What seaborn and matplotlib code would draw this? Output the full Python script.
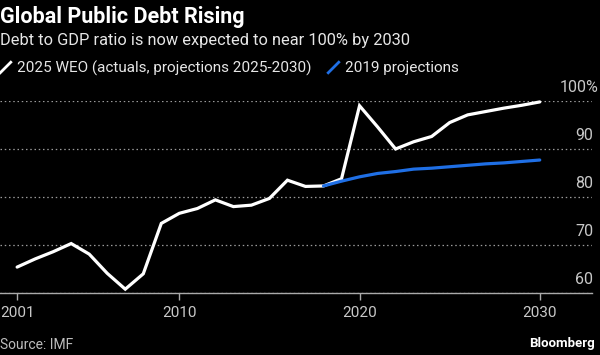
import matplotlib
matplotlib.use("Agg")
import matplotlib.pyplot as plt
from matplotlib.lines import Line2D
from matplotlib import transforms
import seaborn as sns
import pandas as pd

# Data
weo_years = list(range(2001, 2031))
weo_debt = [65.4, 67.1, 68.6, 70.3, 68.1, 64.1, 60.8, 64.0, 74.5, 76.6,
            77.6, 79.4, 78.0, 78.3, 79.7, 83.5, 82.2, 82.3, 83.8, 99.0,
            94.6, 90.0, 91.5, 92.6, 95.5, 97.1, 97.8, 98.5, 99.1, 99.8]
proj_years = list(range(2018, 2031))
proj_debt = [82.3, 83.3, 84.2, 84.9, 85.3, 85.8, 86.0, 86.3, 86.6, 86.9,
             87.1, 87.4, 87.7]
weo_label = "2025 WEO (actuals, projections 2025-2030)"
proj_label = "2019 projections"
x_ticks = [2001, 2010, 2020, 2030]
y_ticks = [60, 70, 80, 90, 100]

df = pd.concat([
    pd.DataFrame({"year": weo_years, "debt": weo_debt, "series": weo_label}),
    pd.DataFrame({"year": proj_years, "debt": proj_debt, "series": proj_label}),
])

sns.set_style("dark")
plt.rcParams["font.family"] = ["Roboto", "DejaVu Sans"]
bg = "black"
grey = "#c8c8c8"

fig = plt.figure(figsize=(6, 3.55), dpi=100, facecolor=bg)
ax = fig.add_axes([0.0, 0.1746, 0.9867, 0.541])
ax.set_facecolor(bg)

palette = {weo_label: "white", proj_label: "#1f6fe5"}
sns.lineplot(data=df, x="year", y="debt", hue="series", palette=palette,
             linewidth=2.3, ax=ax, legend=False, sort=False)
for line in ax.lines:
    line.set_clip_on(False)
    line.set_solid_joinstyle("miter")

ax.set_xlim(2000.05, 2032.9)
ax.set_ylim(60, 100)
ax.set_xlabel("")
ax.set_ylabel("")

# x axis
ax.set_xticks(x_ticks)
ax.set_xticklabels([str(t) for t in x_ticks])
ax.tick_params(axis="x", colors="#aaaaaa", labelcolor=grey, length=5, width=1,
               labelsize=11, pad=4, direction="out")
ax.xaxis.set_ticks_position("bottom")

# y grid + labels above the grid lines
ax.set_yticks(y_ticks)
ax.tick_params(axis="y", length=0, labelleft=False, labelright=False)
ax.grid(False)
ax.grid(axis="y", color="#9a9a9a", linestyle=(0, (1.2, 2.2)), linewidth=0.9)

for side in ["top", "right", "left"]:
    ax.spines[side].set_visible(False)
ax.spines["bottom"].set_visible(True)
ax.spines["bottom"].set_color("#aaaaaa")
ax.spines["bottom"].set_linewidth(1)

trans = transforms.blended_transform_factory(ax.transAxes, ax.transData)
up = transforms.ScaledTranslation(0, 10 / 72, fig.dpi_scale_trans)
for t in y_ticks:
    label = f"{t}%" if t == y_ticks[-1] else str(t)
    ax.text(1.0017 if t != y_ticks[-1] else 1.0115, t, label, transform=trans + up,
            ha="right", va="center", color=grey, fontsize=11.5)

# headings
fig.text(0.0, 1 - 17 / 355, "Global Public Debt Rising", color="white",
         fontsize=15.5, fontweight="bold", va="center", ha="left")
fig.text(0.0, 1 - 41 / 355, "Debt to GDP ratio is now expected to near 100% by 2030",
         color="#e6e6e6", fontsize=11.8, va="center", ha="left")

# legend with slash markers
slash = [(-1, -1), (1, 1)]
handles = [
    Line2D([], [], color="white", marker=slash, linestyle="none",
           markersize=9, markeredgewidth=2, markeredgecolor="white"),
    Line2D([], [], color="#1f6fe5", marker=slash, linestyle="none",
           markersize=9, markeredgewidth=2, markeredgecolor="#1f6fe5"),
]
leg = fig.legend(handles, [weo_label, proj_label], loc="center left",
                 bbox_to_anchor=(-0.012, 1 - 68 / 355), ncol=2, frameon=False,
                 fontsize=11, handlelength=0.8, handletextpad=0.4,
                 columnspacing=1.0, borderaxespad=0)
for txt in leg.get_texts():
    txt.set_color("#e6e6e6")

# footer
fig.text(0.0, 1 - 345 / 355, "Source: IMF", color="#bdbdbd", fontsize=10,
         va="center", ha="left")
fig.text(0.992, 1 - 344 / 355, "Bloomberg", color="white", fontsize=9.5,
         fontweight="bold", va="center", ha="right")

fig.savefig("out.png", dpi=100, facecolor=bg)
